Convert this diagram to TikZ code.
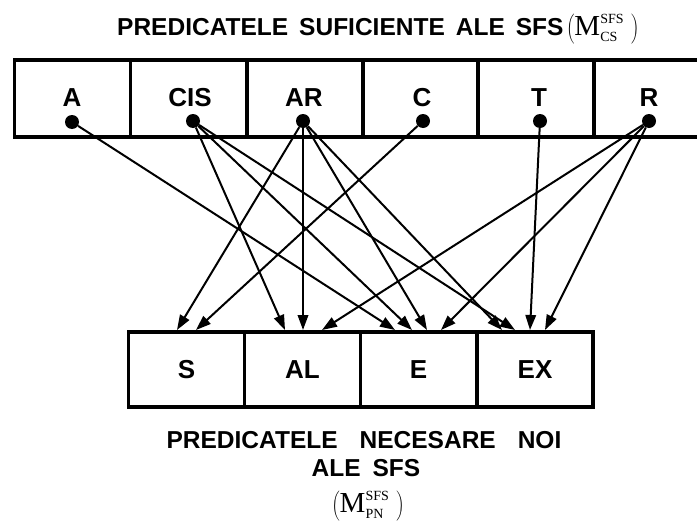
\documentclass[tikz,border=0pt]{standalone}
\usepackage{fontspec}
\setmainfont{Liberation Sans}
\newfontfamily\serifface{Liberation Serif}
\usetikzlibrary{arrows.meta}

% (M^{sup}_{sub}) set in a serif face
\newcommand{\mset}[2]{$\left(\hbox{\serifface\mdseries\fontsize{29}{29}\selectfont M}%
  ^{\hbox{\serifface\mdseries\fontsize{14}{14}\selectfont #1}}%
  _{\hbox{\serifface\mdseries\fontsize{14}{14}\selectfont #2}}\;\right)$}

\begin{document}
\begin{tikzpicture}[x=1pt,y=-1pt,
  cell/.style={draw, line width=3.8pt, inner sep=0pt, minimum height=77pt,
    minimum width=116pt, font=\fontsize{26}{26}\bfseries\selectfont},
  lowcell/.style={cell, minimum height=75pt},
  toplbl/.style={font=\fontsize{26}{26}\bfseries\selectfont, inner sep=0pt},
  pin/.style={circle, fill, inner sep=0pt, minimum size=14pt},
  link/.style={line width=2pt, -{Triangle[length=15pt,width=10.5pt]}},
  heading/.style={font=\fontsize{24.5}{24.5}\bfseries\selectfont, inner sep=0pt, align=center}]

\useasboundingbox (0,0) rectangle (697,525);

% sufficient predicates (top row)
\node[cell] (tA)   at (72.5,98.5)  {};
\node[cell] (tCIS) at (188.5,98.5) {};
\node[cell] (tAR)  at (305,98.5)   {};
\node[cell] (tC)   at (420.5,98.5) {};
\node[cell] (tT)   at (536,98.5)   {};
\node[cell] (tR)   at (652,98.5)   {};

\node[toplbl] (lA)   at (72,98)  {A};
\node[toplbl] (lCIS) at (190,98) {CIS};
\node[toplbl] (lAR)  at (304,98) {AR};
\node[toplbl] (lC)   at (422,98) {C};
\node[toplbl] (lT)   at (539,98) {T};
\node[toplbl] (lR)   at (649,98) {R};

\node[pin] (pA)   at (72,122)  {};
\node[pin] (pCIS) at (193,121) {};
\node[pin] (pAR)  at (303,121) {};
\node[pin] (pC)   at (423,121) {};
\node[pin] (pT)   at (540,121) {};
\node[pin] (pR)   at (649,121) {};

% necessary predicates (bottom row)
\node[lowcell] (bS)  at (186.5,369.5) {S};
\node[lowcell] (bAL) at (302.5,369.5) {AL};
\node[lowcell] (bE)  at (418.5,369.5) {E};
\node[lowcell] (bEX) at (535,369.5)   {EX};

% arrow tips on the top edge of the bottom row
\coordinate (s1) at (177,330);
\coordinate (s2) at (196,330);
\coordinate (al1) at (285,330);
\coordinate (al2) at (303,330);
\coordinate (al3) at (322,330);
\coordinate (e1) at (395,330);
\coordinate (e2) at (412,330);
\coordinate (e3) at (427,330);
\coordinate (e4) at (441,330);
\coordinate (x1) at (502,330);
\coordinate (x2) at (515,330);
\coordinate (x3) at (530,330);
\coordinate (x4) at (545,330);

\draw[link] (pA) -- (e1);
\draw[link] (pCIS) -- (al1);
\draw[link] (pCIS) -- (e2);
\draw[link] (pCIS) -- (x2);
\draw[link] (pAR) -- (s1);
\draw[link] (pAR) -- (al2);
\draw[link] (pAR) -- (e3);
\draw[link] (pAR) -- (x1);
\draw[link] (pC) -- (s2);
\draw[link] (pT) -- (x3);
\draw[link] (pR) -- (al3);
\draw[link] (pR) -- (e4);
\draw[link] (pR) -- (x4);

% headings
\node[heading, anchor=west] (top) at (117,29)
  {PREDICATELE\hspace{11pt}SUFICIENTE\hspace{11pt}ALE\hspace{11pt}SFS\hspace{3pt}\mset{SFS}{CS}};
\node[heading] (bot1) at (364,440) {PREDICATELE\hspace{22pt}NECESARE\hspace{22pt}NOI};
\node[heading] (bot2) at (366,468) {ALE\hspace{12pt}SFS};
\node[heading] (bot3) at (368,506) {\mset{SFS}{PN}};
\end{tikzpicture}
\end{document}
